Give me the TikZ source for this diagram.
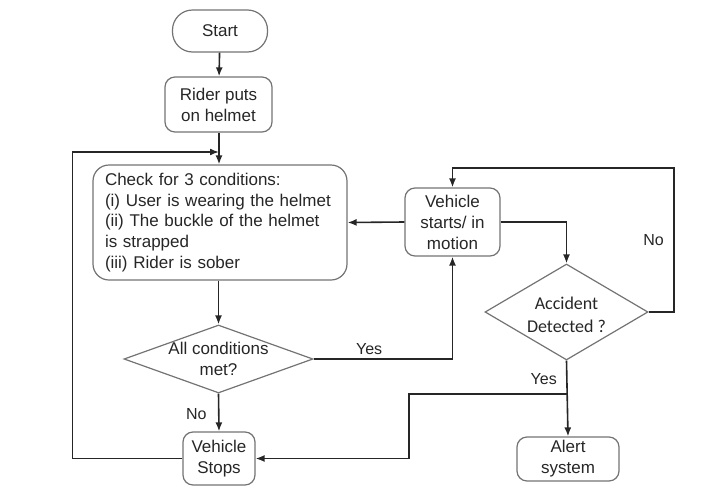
\documentclass[tikz,border=0pt]{standalone}
\usepackage{fontspec}
\setmainfont{Liberation Sans}
\newfontfamily\calibrifont{Carlito}
\usetikzlibrary{arrows.meta,shapes.geometric}

\begin{document}
\begin{tikzpicture}[x=1pt, y=-1pt, style={
  box/.style={
    rectangle,
    rounded corners=10pt,
    draw=black!55,
    line width=1.2pt,
    text=black!85,
    align=center,
    inner sep=0pt,
    font=\fontsize{17}{21}\selectfont,
  },
  startstyle/.style={
    box,
    rounded corners=20pt,
    minimum width=95pt,
    minimum height=42pt,
  },
  checkstyle/.style={
    box,
    rounded corners=16pt,
    align=left,
    text width=230pt,
    inner xsep=12pt,
    minimum height=115pt,
    font=\fontsize{17}{20.7}\selectfont,
  },
  decision/.style={
    diamond,
    draw=black!55,
    line width=1.2pt,
    inner sep=0pt,
  },
  answer/.style={
    text=black!85,
    font=\fontsize{16}{19}\selectfont,
  },
  myline/.style={line width=1.6pt, draw=black!85},
  myarrow/.style={myline, -{Latex[length=9pt, width=7pt]}}
}]
\useasboundingbox (0,0) rectangle (718,501);
\draw[]
  node[startstyle] (start) at (220,31) {Start}
  node[box, minimum width=107pt, minimum height=55pt] (helmet) at (218.5,104.5) {
    Rider puts\\on helmet
  }
  node[checkstyle] (check) at (220,222.5) {
    Check for 3 conditions:\\
    (i) User is wearing the helmet\\
    (ii) The buckle of the helmet\\
    is strapped\\
    (iii) Rider is sober
  }
  node[box, minimum width=95pt, minimum height=68pt] (motion) at (452.5,222) {
    Vehicle\\starts/ in\\motion
  }
  node[decision, minimum width=189pt, minimum height=68pt,
    label={[answer, font=\fontsize{17}{21}\selectfont, align=center]center:All conditions\\met?}]
  (allmet) at (218.5,359) {}
  node[box, minimum width=72pt, minimum height=53pt] (stops) at (219,458.5) {
    Vehicle\\Stops
  }
  node[decision, minimum width=163pt, minimum height=96pt,
    label={[answer, font=\calibrifont\fontsize{18}{23}\selectfont, align=center, yshift=-3pt]center:Accident\\Detected ?}]
  (accident) at (566.5,312) {}
  node[box, minimum width=102pt, minimum height=44pt] (alert) at (568,459) {
    Alert\\system
  }
;
\coordinate (rejoin) at (219,152);
\coordinate (noturn) at (674,168);
\coordinate (split) at (567,394);
% main column
\draw[myarrow] (start) -- (helmet);
\draw[myarrow] (helmet.south -| rejoin) -- (rejoin |- check.north);
\draw[myarrow] (check.south -| allmet) -- (allmet.north);
\draw[myarrow] (allmet.south) -- (stops.north)
  node[pos=0.55, left=8pt, answer] (nolabel) {No};
\draw[myarrow] (stops.west) -- ++(-110,0) |- (rejoin);
% right side
\draw[myarrow] (allmet.east) -| (motion.south)
  node[pos=0.2, above, answer] (yeslabel) {Yes};
\draw[myarrow] (motion.west) -- (check.east);
\draw[myarrow] (motion.east) -| (accident.north);
\draw[myarrow] (accident.east) -| (noturn)
  node[pos=0.75, left=6pt, answer] (nolabeltwo) {No}
  -| (motion.north);
\draw[myarrow] (accident.south) -- (alert.north)
  node[pos=0.25, left=6pt, answer] (yeslabeltwo) {Yes};
\draw[myarrow] (split) -- ++(-158,0) |- (stops.east);
\end{tikzpicture}
\end{document}
